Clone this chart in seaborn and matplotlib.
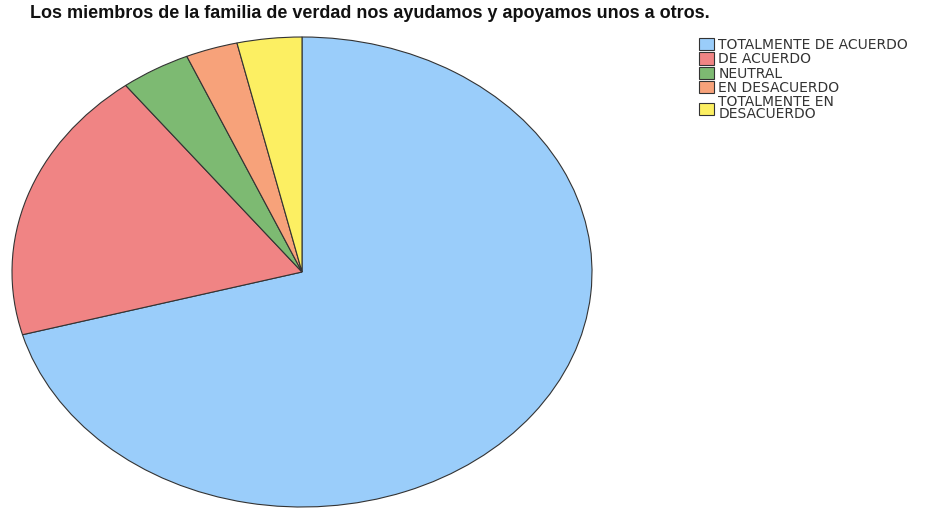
import matplotlib
matplotlib.use("Agg")
import matplotlib.pyplot as plt
import seaborn as sns

# Data (percent of answers)
categories = ["TOTALMENTE DE ACUERDO", "DE ACUERDO", "NEUTRAL",
              "EN DESACUERDO", "TOTALMENTE EN\nDESACUERDO"]
values = [70.7, 18.9, 3.9, 2.9, 3.6]
colors = ["#9ACDFA", "#F08484", "#7DBA72", "#F7A27A", "#FCEF62"]

sns.set_theme(style="white")
plt.rcParams["font.family"] = ["Liberation Sans", "DejaVu Sans"]

fig = plt.figure(figsize=(9.44, 5.08), dpi=100)
ax = fig.add_axes([12 / 944, 1 / 508, 580 / 944, 470 / 508])

wedges, _ = ax.pie(values, colors=colors, startangle=90, counterclock=False,
                   radius=1, wedgeprops={"edgecolor": "#333333", "linewidth": 0.8})
ax.set_aspect("auto")
ax.set_xlim(-1, 1)
ax.set_ylim(-1, 1)

fig.text(30 / 944, 1 - 14 / 508, "Los miembros de la familia de verdad nos ayudamos y apoyamos unos a otros.",
         fontsize=13, fontweight="bold", va="center", ha="left", color="#111111")

leg = fig.legend(wedges, categories, loc="upper left", bbox_to_anchor=(699 / 944, 1 - 38 / 508),
                 frameon=False, prop={"family": "DejaVu Sans", "size": 10},
                 handlelength=1.1, handleheight=1.0,
                 handletextpad=0.3, labelspacing=0.02, borderaxespad=0, borderpad=0)
for t in leg.get_texts():
    t.set_linespacing(0.8)
    t.set_color("#333333")

fig.savefig("out.png", dpi=100)
